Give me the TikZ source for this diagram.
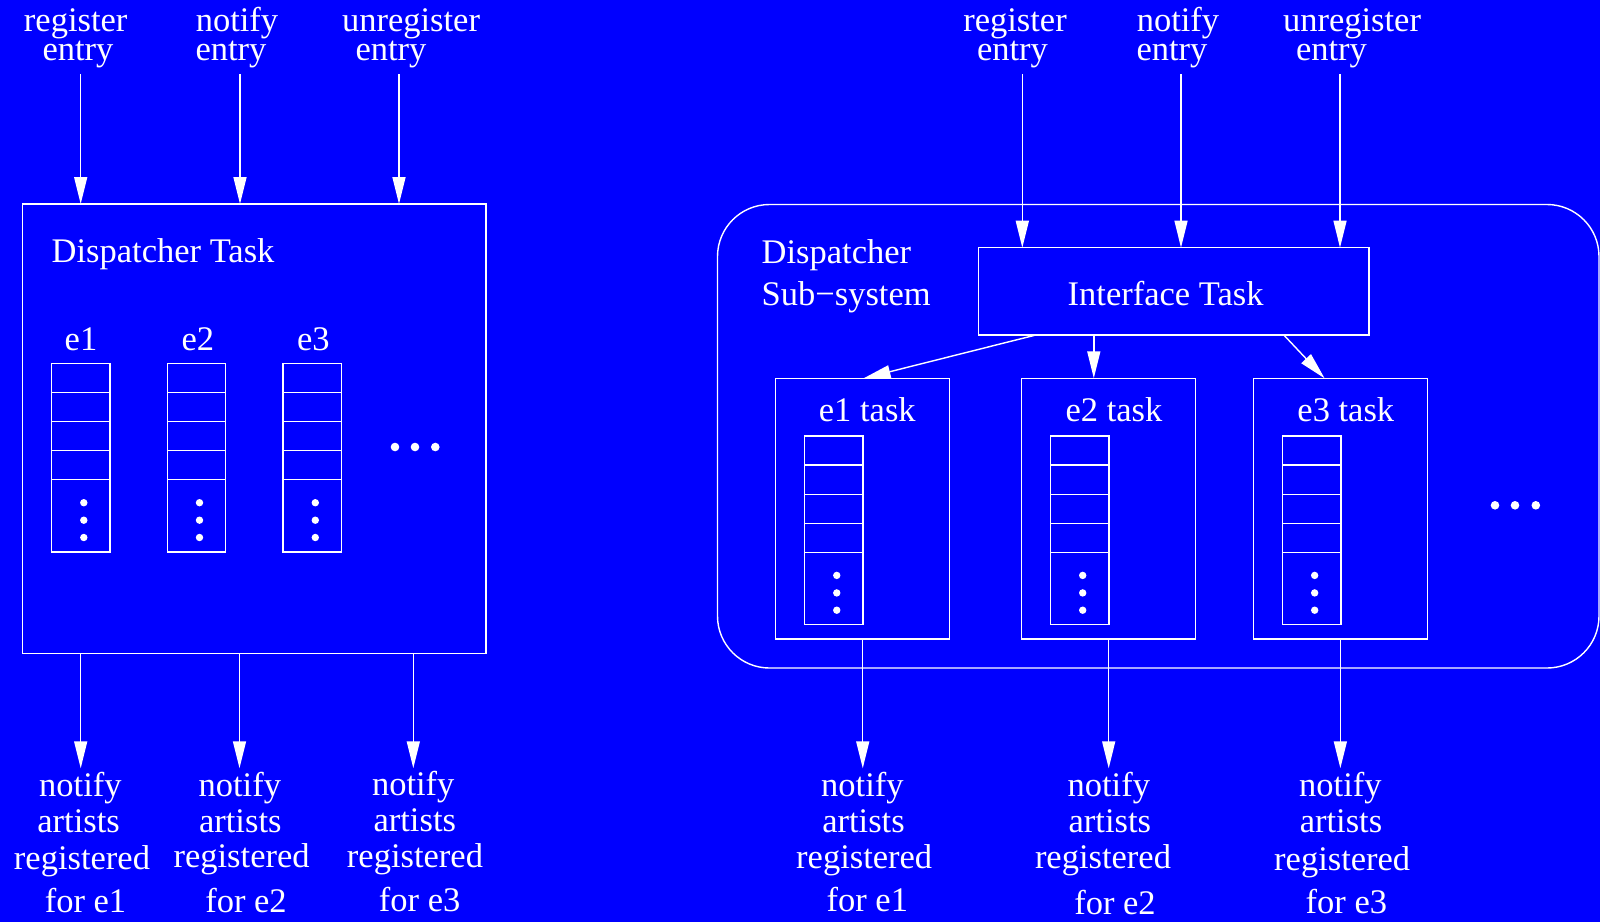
\documentclass[tikz,border=0pt]{standalone}
\usepackage{fontspec}
\setmainfont{Liberation Serif}
\usetikzlibrary{arrows.meta}
\definecolor{bgblue}{RGB}{0,0,255}
\tikzset{
  ln/.style={draw=white, line width=1.4pt},
  boxn/.style={ln, rectangle, inner sep=0pt, outer sep=0pt},
  arr/.style={ln, -{Triangle[length=27pt,width=13pt]}},
  txt/.style={text=white, inner sep=0pt, outer sep=0pt, anchor=base, font=\fontsize{34.5}{36}\selectfont},
  txtw/.style={txt, anchor=base west},
}
\newcommand{\mystack}[3]{%
  \node[boxn, minimum width=58.4pt, minimum height=188.7pt, anchor=north] (#1) at (#2,#3) {};
  \foreach \k in {1,...,4} \draw[ln] ([yshift={-29.1pt*\k}]#1.north west) -- ([yshift={-29.1pt*\k}]#1.north east);
  \foreach \d in {49.3,31.8,14.5} \fill[white] ([xshift=3pt,yshift=\d pt]#1.south) circle (3.7pt);
}
\begin{document}
\begin{tikzpicture}[x=1pt,y=-1pt]
\fill[bgblue] (0,0) rectangle (1600,922);
\useasboundingbox (0,0) rectangle (1600,922);

% ---------------- left part ----------------
\node[txt] (la1) at (75.7,31.5) {register};
\node[txt] (la2) at (78,60) {entry};
\node[txt] (lb1) at (237,31.5) {notify};
\node[txt] (lb2) at (231,60) {entry};
\node[txt] (lc1) at (411,31.5) {unregister};
\node[txt] (lc2) at (391,60) {entry};

\node[boxn, minimum width=463.3pt, minimum height=449.3pt] (lbox) at (254.35,428.65) {};
\node[txtw] (ltitle) at (51.7,262.7) {Dispatcher Task};

\coordinate (lt1) at (80.7,74);
\coordinate (lt2) at (240,74);
\coordinate (lt3) at (399,74);
\draw[arr] (lt1) -- (lt1 |- lbox.north);
\draw[arr] (lt2) -- (lt2 |- lbox.north);
\draw[arr] (lt3) -- (lt3 |- lbox.north);

\node[txt] (le1) at (81,350) {e1};
\node[txt] (le2) at (197.8,350) {e2};
\node[txt] (le3) at (313.3,350) {e3};
\mystack{ls1}{80.8}{363.3}
\mystack{ls2}{196.5}{363.3}
\mystack{ls3}{312.3}{363.3}
\fill[white] (395,447) circle (4.3pt);
\fill[white] (415,447) circle (4.3pt);
\fill[white] (435.3,447) circle (4.3pt);

\coordinate (lo1) at (80.7,768.3);
\coordinate (lo2) at (239.5,768.3);
\coordinate (lo3) at (413.3,768.3);
\draw[arr] (lo1 |- lbox.south) -- (lo1);
\draw[arr] (lo2 |- lbox.south) -- (lo2);
\draw[arr] (lo3 |- lbox.south) -- (lo3);

\node[txt] (lo1a) at (80.4,796.7) {notify};
\node[txt] (lo1b) at (78.6,832.7) {artists};
\node[txt] (lo1c) at (82,869.3) {registered};
\node[txt] (lo1d) at (85.5,912.7) {for e1};
\node[txt] (lo2a) at (239.8,796.7) {notify};
\node[txt] (lo2b) at (240.3,832.7) {artists};
\node[txt] (lo2c) at (241.6,867.7) {registered};
\node[txt] (lo2d) at (246,912.7) {for e2};
\node[txt] (lo3a) at (413.2,795.7) {notify};
\node[txt] (lo3b) at (414.8,831.7) {artists};
\node[txt] (lo3c) at (415,867.7) {registered};
\node[txt] (lo3d) at (419.6,911.7) {for e3};

% ---------------- right part ----------------
\node[txt] (ra1) at (1015,31.5) {register};
\node[txt] (ra2) at (1012.5,60) {entry};
\node[txt] (rb1) at (1178,31.5) {notify};
\node[txt] (rb2) at (1172,60) {entry};
\node[txt] (rc1) at (1352,31.5) {unregister};
\node[txt] (rc2) at (1331.5,60) {entry};

\node[boxn, rounded corners=52pt, minimum width=881.5pt, minimum height=463.5pt] (sub) at (1158.25,436.25) {};
\node[txtw] (subt1) at (761.7,263) {Dispatcher};
\node[txtw] (subt2) at (761.7,305.7) {Sub−system};

\node[boxn, minimum width=390.6pt, minimum height=87.3pt] (iface) at (1173.7,291.35) {};
\node[txt] (ifacet) at (1165.6,305.7) {Interface Task};

\coordinate (rt1) at (1022.3,74);
\coordinate (rt2) at (1181,74);
\coordinate (rt3) at (1340,74);
\draw[arr] (rt1) -- (rt1 |- iface.north);
\draw[arr] (rt2) -- (rt2 |- iface.north);
\draw[arr] (rt3) -- (rt3 |- iface.north);

\node[boxn, minimum width=174pt, minimum height=260.7pt] (t1) at (862.75,508.65) {};
\node[boxn, minimum width=174pt, minimum height=260.7pt] (t2) at (1108.7,508.65) {};
\node[boxn, minimum width=174pt, minimum height=260.7pt] (t3) at (1340.35,508.65) {};
\node[txt] (t1t) at (867.3,421.7) {e1 task};
\node[txt] (t2t) at (1114,421.7) {e2 task};
\node[txt] (t3t) at (1345.8,421.7) {e3 task};

\coordinate (if1) at (1035.8,0);
\coordinate (if2) at (1093.8,0);
\coordinate (if3) at (1283.8,0);
\coordinate (te1) at (863.6,0);
\coordinate (te3) at (1324.6,0);
\draw[arr] (if1 |- iface.south) -- (te1 |- t1.north);
\draw[arr] (if2 |- iface.south) -- (if2 |- t2.north);
\draw[arr] (if3 |- iface.south) -- (te3 |- t3.north);

\mystack{rs1}{833.75}{436}
\mystack{rs2}{1079.7}{436}
\mystack{rs3}{1311.65}{436}
\fill[white] (1495,505.3) circle (4.3pt);
\fill[white] (1515,505.3) circle (4.3pt);
\fill[white] (1535.8,505.3) circle (4.3pt);

\coordinate (ro1) at (862.75,768.3);
\coordinate (ro2) at (1108.7,768.3);
\coordinate (ro3) at (1340.35,768.3);
\draw[arr] (t1.south) -- (ro1);
\draw[arr] (t2.south) -- (ro2);
\draw[arr] (t3.south) -- (ro3);

\node[txt] (ro1a) at (862.4,796.7) {notify};
\node[txt] (ro1b) at (863.5,832.3) {artists};
\node[txt] (ro1c) at (864.2,868.3) {registered};
\node[txt] (ro1d) at (867.3,911.7) {for e1};
\node[txt] (ro2a) at (1108.8,796.7) {notify};
\node[txt] (ro2b) at (1109.8,832.3) {artists};
\node[txt] (ro2c) at (1103,868.3) {registered};
\node[txt] (ro2d) at (1115,914) {for e2};
\node[txt] (ro3a) at (1340.4,796.7) {notify};
\node[txt] (ro3b) at (1341,832.3) {artists};
\node[txt] (ro3c) at (1342.2,870) {registered};
\node[txt] (ro3d) at (1346.4,913.3) {for e3};
\end{tikzpicture}
\end{document}
